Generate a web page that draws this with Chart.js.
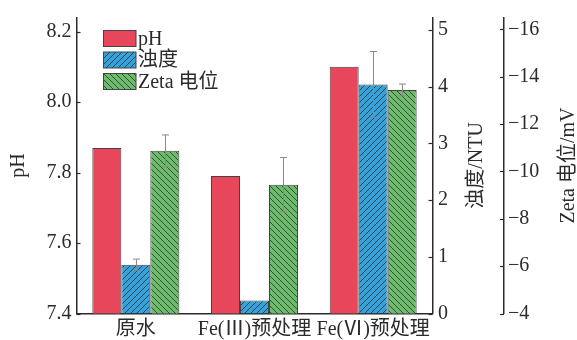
<!DOCTYPE html>
<html>
<head>
<meta charset="utf-8">
<script src="https://cdn.jsdelivr.net/npm/chart.js@4"></script>
<style>
  html, body { margin: 0; padding: 0; background: #fff; }
  #wrap { width: 577px; height: 340px; }
</style>
</head>
<body>
<div id="wrap"><canvas id="c" width="577" height="340"></canvas></div>
<script>
// Categories and measured values
const categories = ['原水', 'Fe(Ⅲ)预处理', 'Fe(Ⅵ)预处理'];
const phValues = [7.87, 7.79, 8.10];
const turbidityValues = [0.86, 0.23, 4.04];
const turbidityErrors = [0.10, 0, 0.58];
const zetaValues = [-10.87, -9.44, -13.44];
const zetaErrors = [0.67, 1.15, 0.25];

// Tick labels for the three value axes
const phTicks = [7.4, 7.6, 7.8, 8.0, 8.2];
const turbidityTicks = [0, 1, 2, 3, 4, 5];
const zetaTicks = [-16, -14, -12, -10, -8, -6, -4];

const FONT = '"Liberation Serif", "Noto Sans CJK SC", serif';
const INK = '#2b2b2b';

function hatch(bg, dir) {
  const s = 6;
  const c = document.createElement('canvas');
  c.width = s; c.height = s;
  const g = c.getContext('2d');
  g.fillStyle = bg;
  g.fillRect(0, 0, s, s);
  g.strokeStyle = 'rgba(25,35,45,0.9)';
  g.lineWidth = 0.8;
  g.beginPath();
  if (dir === '/') {
    g.moveTo(-1, s + 1); g.lineTo(s + 1, -1);
    g.moveTo(-1, 1); g.lineTo(1, -1);
    g.moveTo(s - 1, s + 1); g.lineTo(s + 1, s - 1);
  } else {
    g.moveTo(-1, -1); g.lineTo(s + 1, s + 1);
    g.moveTo(s - 1, -1); g.lineTo(s + 1, 1);
    g.moveTo(-1, s - 1); g.lineTo(1, s + 1);
  }
  g.stroke();
  return g.createPattern(c, 'repeat');
}

const ctx = document.getElementById('c').getContext('2d');
const redFill = '#e8465a';
const blueFill = hatch('#36a2da', '/');
const greenFill = hatch('#6dbb6b', '\\');

function fixedTicks(arr) {
  return function (scale) { scale.ticks = arr.map(v => ({ value: v })); };
}
function fixWidth(w) {
  return function (scale) { scale.width = w; };
}

// Error bars drawn from each dataset's own y scale
const errorBars = {
  id: 'errorBars',
  afterDatasetsDraw(chart) {
    const g = chart.ctx;
    g.save();
    g.strokeStyle = '#8a8a8a';
    g.lineWidth = 1;
    chart.data.datasets.forEach((ds, di) => {
      if (!ds.errors) return;
      const meta = chart.getDatasetMeta(di);
      const ys = chart.scales[ds.yAxisID];
      meta.data.forEach((bar, i) => {
        const e = ds.errors[i];
        if (!e) return;
        const v = ds.data[i];
        const y1 = ys.getPixelForValue(v - e);
        const y2 = ys.getPixelForValue(v + e);
        const x = Math.round(bar.x) + 0.5;
        g.beginPath();
        g.moveTo(x, y1); g.lineTo(x, y2);
        g.moveTo(x - 3.5, y1); g.lineTo(x + 3.5, y1);
        g.moveTo(x - 3.5, y2); g.lineTo(x + 3.5, y2);
        g.stroke();
      });
    });
    g.restore();
  }
};

// Tick marks, axis titles and legend
const decorations = {
  id: 'decorations',
  afterDraw(chart) {
    const g = chart.ctx;
    const s = chart.scales;
    g.save();
    g.strokeStyle = INK;
    g.lineWidth = 1.2;
    const marks = [
      [s.yPH, s.yPH.right, 4],
      [s.yTurb, s.yTurb.left, -4],
      [s.yZeta, s.yZeta.left, -4]
    ];
    marks.forEach(([sc, x0, len]) => {
      sc.ticks.forEach(t => {
        const y = Math.round(sc.getPixelForValue(t.value)) + 0.5;
        g.beginPath();
        g.moveTo(x0, y); g.lineTo(x0 + len, y);
        g.stroke();
      });
    });

    const ca = chart.chartArea;
    const cy = (ca.top + ca.bottom) / 2;
    g.fillStyle = INK;
    g.font = '20px ' + FONT;
    g.textAlign = 'center';
    g.textBaseline = 'middle';
    [['pH', 19], ['浊度/NTU', s.yTurb.right - 27], ['Zeta 电位/mV', s.yZeta.right - 8]].forEach(([txt, x]) => {
      g.save();
      g.translate(x, cy);
      g.rotate(-Math.PI / 2);
      g.fillText(txt, 0, 0);
      g.restore();
    });

    // legend
    const bx = ca.left + 27, bw = 32.5, bh = 16;
    g.textAlign = 'left';
    g.font = '20px ' + FONT;
    chart.data.datasets.forEach((ds, i) => {
      const top = 30.5 + i * 21.5;
      g.fillStyle = ds.backgroundColor;
      g.fillRect(bx, top, bw, bh);
      g.strokeStyle = '#444';
      g.lineWidth = 1;
      g.strokeRect(bx, top, bw, bh);
      g.fillStyle = INK;
      g.fillText(ds.label, bx + bw + 2, top + bh / 2 + 1);
    });
    g.restore();
  }
};

const tickFont = { family: FONT, size: 20 };
const noGrid = { display: false, drawTicks: false };

new Chart(ctx, {
  type: 'bar',
  data: {
    labels: categories,
    datasets: [
      { label: 'pH', data: phValues, yAxisID: 'yPH',
        backgroundColor: redFill, borderColor: '#444', borderWidth: 1 },
      { label: '浊度', data: turbidityValues, errors: turbidityErrors, yAxisID: 'yTurb',
        backgroundColor: blueFill, borderColor: '#444', borderWidth: 1 },
      { label: 'Zeta 电位', data: zetaValues, errors: zetaErrors, yAxisID: 'yZeta',
        backgroundColor: greenFill, borderColor: '#444', borderWidth: 1 }
    ]
  },
  options: {
    responsive: false,
    animation: false,
    events: [],
    layout: { padding: { top: 12.5, left: 0, right: 0, bottom: 0 } },
    datasets: { bar: { categoryPercentage: 0.733, barPercentage: 1 } },
    plugins: { legend: { display: false }, tooltip: { enabled: false } },
    scales: {
      x: {
        grid: noGrid,
        border: { display: true, color: INK, width: 1.5 },
        ticks: { font: tickFont, color: INK, padding: 4, maxRotation: 0, autoSkip: false },
        afterFit(scale) { scale.height = 26.5; }
      },
      yPH: {
        position: 'left',
        min: 7.4, max: 8.24,
        grid: noGrid,
        border: { display: true, color: INK, width: 1.5 },
        afterBuildTicks: fixedTicks(phTicks),
        afterFit: fixWidth(76.5),
        ticks: { font: tickFont, color: INK, padding: 5, callback: v => v.toFixed(1) }
      },
      yTurb: {
        position: 'right',
        weight: 0,
        min: 0, max: 5.22,
        grid: noGrid,
        border: { display: true, color: INK, width: 1.5 },
        afterBuildTicks: fixedTicks(turbidityTicks),
        afterFit: fixWidth(71.5),
        ticks: { font: tickFont, color: INK, padding: 5.5 }
      },
      yZeta: {
        position: 'right',
        weight: 1,
        min: -16.5, max: -4,
        reverse: true,
        grid: noGrid,
        border: { display: true, color: INK, width: 1.5 },
        afterBuildTicks: fixedTicks(zetaTicks),
        afterFit: fixWidth(73),
        ticks: { font: tickFont, color: INK, padding: 4,
                 callback: v => (v < 0 ? '\u2212' + Math.abs(v) : String(v)) }
      }
    }
  },
  plugins: [errorBars, decorations]
});
</script>
</body>
</html>
